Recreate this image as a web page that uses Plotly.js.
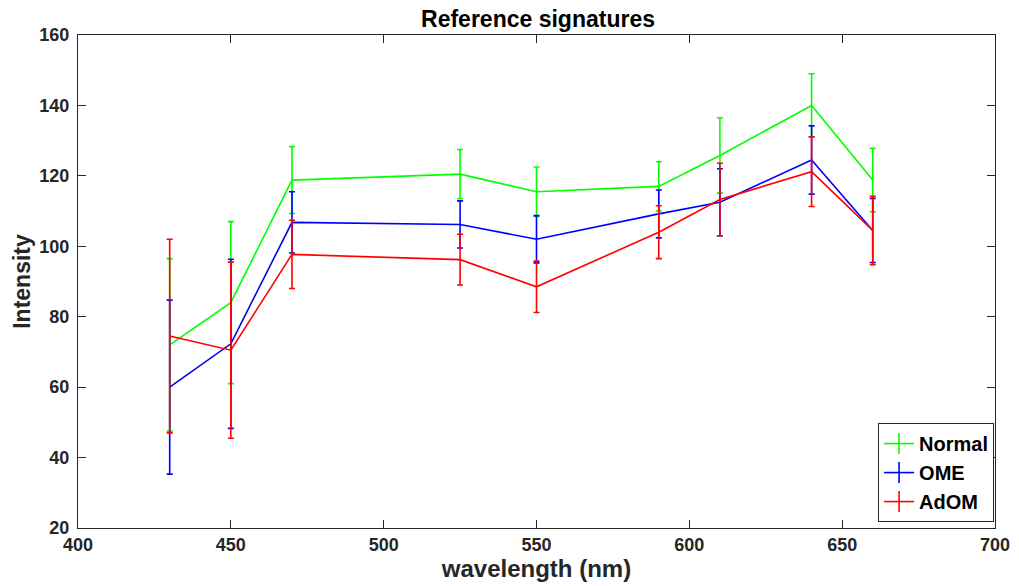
<!DOCTYPE html>
<html><head><meta charset="utf-8">
<script src="https://cdn.plot.ly/plotly-3.0.1.min.js"></script>
<style>body{margin:0;background:#fff}#chart{width:1019px;height:586px}</style>
</head><body><div id="chart"></div>
<script>
const wavelength = [430, 450, 470, 525, 550, 590, 610, 640, 660];
const normalMean = [72, 84, 118.8, 120.5, 115.5, 117, 125.8, 140, 118.8];
const normalErr  = [24.5, 23, 9.5, 7, 7, 7, 10.7, 9, 9];
const omeMean    = [60, 72.3, 106.8, 106.2, 102, 109.2, 112.5, 124.5, 104.5];
const omeErr     = [24.7, 24, 8.7, 6.7, 6.7, 6.8, 9.5, 9.7, 9.1];
const adomMean   = [74.5, 70.5, 97.7, 96.2, 88.5, 104, 113.3, 121.2, 104.5];
const adomErr    = [27.5, 25, 9.7, 7.2, 7.3, 7.5, 10.3, 9.9, 9.7];
const seriesNames = ['Normal', 'OME', 'AdOM'];
const seriesColors = ['#00ff00', '#0000ff', '#ff0000'];
const xTicks = [400, 450, 500, 550, 600, 650, 700];
const yTicks = [20, 40, 60, 80, 100, 120, 140, 160];

const FONT = 'Liberation Sans, Arial, Helvetica, sans-serif';
const means = [normalMean, omeMean, adomMean];
const errs = [normalErr, omeErr, adomErr];
const traces = means.map((m, i) => ({
  x: wavelength, y: m, name: seriesNames[i], type: 'scatter', mode: 'lines',
  showlegend: false,
  line: {color: seriesColors[i], width: 1.6},
  error_y: {type: 'data', array: errs[i], visible: true, color: seriesColors[i], thickness: 1.6, width: 3}
}));
// legend-only entries (errorbar-like icon)
seriesNames.forEach((n, i) => traces.push({
  x: [null], y: [null], name: n, type: 'scatter', mode: 'lines+markers',
  line: {color: seriesColors[i], width: 1.6},
  marker: {symbol: 'line-ns-open', size: 15, color: seriesColors[i], line: {color: seriesColors[i], width: 1.6}}
}));

const tickFont = {family: FONT, size: 18, color: '#262626'};
const bold = v => '<b>' + v + '</b>';
const layout = {
  width: 1019, height: 586,
  margin: {l: 78, r: 24, t: 35, b: 58},
  paper_bgcolor: '#fff', plot_bgcolor: '#fff',
  title: {text: '<b>Reference signatures</b>', x: 0.528, xanchor: 'center', y: 0.968, yanchor: 'middle',
          font: {family: FONT, size: 23, color: '#000'}},
  xaxis: {range: [400, 700], tickvals: xTicks, ticktext: xTicks.map(bold),
          ticks: 'inside', ticklen: 8, tickcolor: '#262626', tickwidth: 1,
          showline: true, linecolor: '#262626', linewidth: 1.2, mirror: 'ticks',
          showgrid: false, zeroline: false, tickfont: tickFont, automargin: false,
          title: {text: '<b>wavelength (nm)</b>', font: {family: FONT, size: 24, color: '#262626'}, standoff: 2}},
  yaxis: {range: [20, 160], tickvals: yTicks, ticktext: yTicks.map(bold),
          ticks: 'inside', ticklen: 8, tickcolor: '#262626', tickwidth: 1,
          showline: true, linecolor: '#262626', linewidth: 1.2, mirror: 'ticks',
          showgrid: false, zeroline: false, tickfont: tickFont, automargin: false,
          ticklabelstandoff: 4,
          title: {text: '<b>Intensity</b>', font: {family: FONT, size: 23, color: '#262626'}, standoff: 2}},
  legend: {x: 0.999, y: 0.012, xanchor: 'right', yanchor: 'bottom', bgcolor: '#fff',
           bordercolor: '#262626', borderwidth: 1, itemwidth: 30, tracegroupgap: 0,
           font: {family: FONT, size: 20, color: '#000', weight: 'bold'}},
  showlegend: true
};
Plotly.newPlot('chart', traces, layout, {displayModeBar: false, staticPlot: true});
</script>
</body></html>
